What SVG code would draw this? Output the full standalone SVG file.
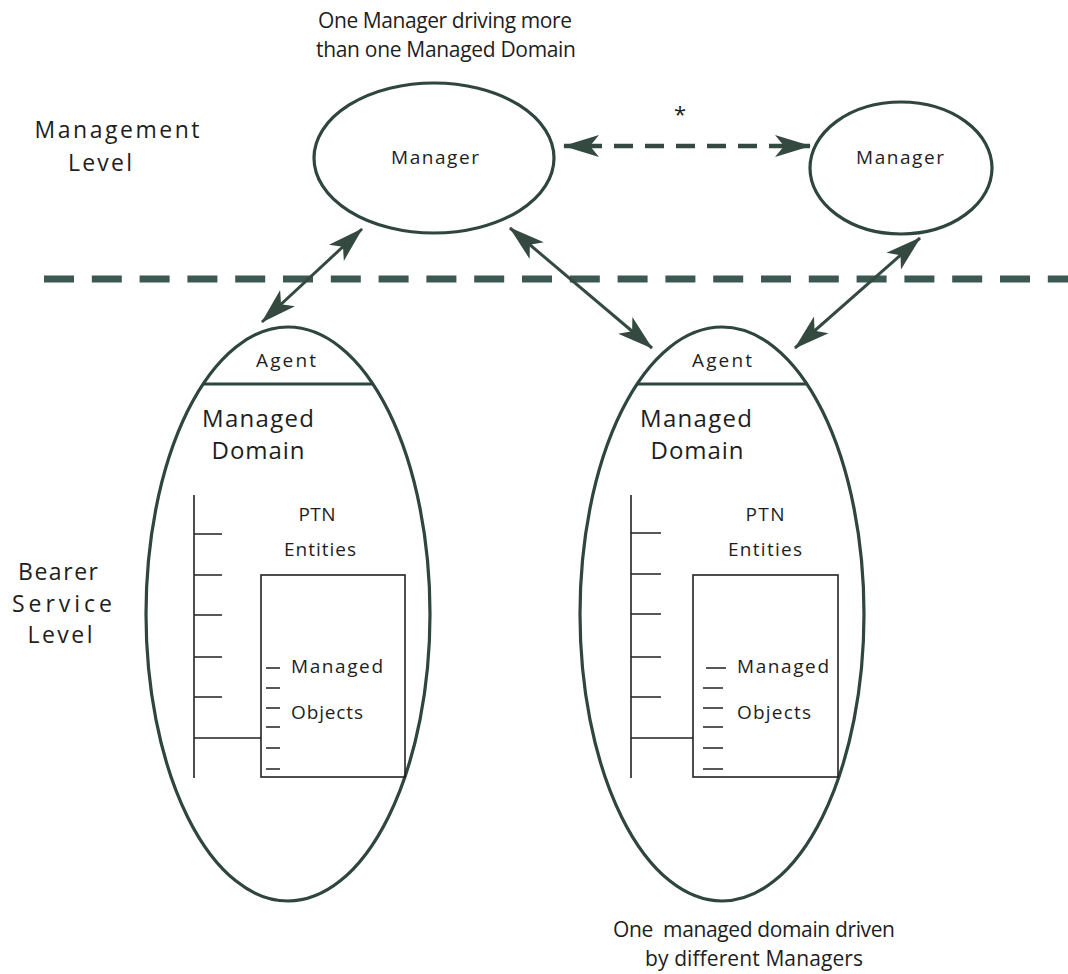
<svg xmlns="http://www.w3.org/2000/svg" width="1068" height="974" viewBox="0 0 1068 974">
  <style>
    .txt { font-family: "Open Sans", "Noto Sans", "Liberation Sans", sans-serif; fill: #1e1e1e; }
    .big { font-size: 24px; }
    .lvl { font-size: 23px; }
    .ttl { font-size: 21px; }
    .mid { font-size: 19px; }
    .sml { font-size: 19px; }
    .shape { fill: none; stroke: #2f4540; stroke-width: 3.2; }
    .tree { fill: none; stroke: #222; stroke-width: 1.6; }
    .link { fill: none; stroke: #34493f; stroke-width: 3; }
    .dlink { fill: none; stroke: #34493f; stroke-width: 4.5; stroke-dasharray: 19 12; stroke-dashoffset: 12; }
    .divider { fill: none; stroke: #3d5752; stroke-width: 7; stroke-dasharray: 30 17.8; }
  </style>
  <defs>
    <marker id="head" viewBox="0 -12 36 24" refX="35" refY="0" markerWidth="36" markerHeight="24"
            markerUnits="userSpaceOnUse" orient="auto-start-reverse">
      <path d="M36,0 L0,-11 L9,0 L0,11 Z" fill="#34493f"/>
    </marker>
  </defs>

  <rect x="0" y="0" width="1068" height="974" fill="#ffffff"/>

  <!-- level labels and captions -->
  <g id="labels">
    <text class="txt ttl" x="445" y="28" text-anchor="middle" textLength="254">One Manager driving more</text>
    <text class="txt ttl" x="446" y="57" text-anchor="middle" textLength="260">than one Managed Domain</text>
    <text class="txt lvl" x="117" y="138" text-anchor="middle" textLength="165">Management</text>
    <text class="txt lvl" x="100" y="171" text-anchor="middle" textLength="64">Level</text>
    <text class="txt lvl" x="58" y="580" text-anchor="middle" textLength="80">Bearer</text>
    <text class="txt lvl" x="62" y="612" text-anchor="middle" textLength="100">Service</text>
    <text class="txt lvl" x="60" y="643" text-anchor="middle" textLength="65">Level</text>
    <text class="txt ttl" x="754" y="937" text-anchor="middle" textLength="282" xml:space="preserve">One  managed domain driven</text>
    <text class="txt ttl" x="754" y="966" text-anchor="middle" textLength="218">by different Managers</text>
  </g>

  <!-- level boundary -->
  <g id="boundary">
    <line class="divider" x1="44" y1="279" x2="1068" y2="279"/>
  </g>

  <!-- managers -->
  <g id="manager-left">
    <ellipse class="shape" cx="434" cy="158" rx="120" ry="75"/>
    <text class="txt sml" x="435" y="164" text-anchor="middle" textLength="88">Manager</text>
  </g>
  <g id="manager-right">
    <ellipse class="shape" cx="901" cy="168" rx="91" ry="66"/>
    <text class="txt sml" x="900" y="164" text-anchor="middle" textLength="88">Manager</text>
  </g>

  <!-- managed domain with agent, left -->
  <g id="domain-left">
    <ellipse class="shape" cx="288" cy="614" rx="142" ry="287"/>
    <line class="shape" x1="203" y1="384" x2="373" y2="384"/>
    <text class="txt sml" x="286" y="367" text-anchor="middle" textLength="60">Agent</text>
    <text class="txt big" x="258" y="427" text-anchor="middle" textLength="112">Managed</text>
    <text class="txt big" x="258" y="459" text-anchor="middle" textLength="93">Domain</text>
    <g class="tree">
      <path d="M194,495 V778 M194,534 H222 M194,575 H222 M194,615 H222 M194,657 H222 M194,697 H222 M194,738 H261"/>
      <rect x="261" y="575" width="144" height="202"/>
      <path d="M266,668 H280 M266,688 H280 M266,708 H280 M266,727 H280 M266,748 H280 M266,769 H280"/>
    </g>
    <text class="txt mid" x="317" y="521" text-anchor="middle" textLength="37">PTN</text>
    <text class="txt mid" x="320" y="556" text-anchor="middle" textLength="72">Entities</text>
    <text class="txt mid" x="291" y="673" textLength="92">Managed</text>
    <text class="txt mid" x="291" y="719" textLength="72">Objects</text>
  </g>

  <!-- managed domain with agent, right -->
  <g id="domain-right">
    <ellipse class="shape" cx="722" cy="614" rx="142" ry="287"/>
    <line class="shape" x1="637" y1="384" x2="807" y2="384"/>
    <text class="txt sml" x="722" y="367" text-anchor="middle" textLength="60">Agent</text>
    <text class="txt big" x="696" y="427" text-anchor="middle" textLength="112">Managed</text>
    <text class="txt big" x="697" y="459" text-anchor="middle" textLength="93">Domain</text>
    <g class="tree">
      <path d="M631,495 V778 M631,533 H661 M631,574 H661 M631,614 H661 M631,657 H661 M631,697 H661 M631,738 H693"/>
      <rect x="693" y="575" width="145" height="202"/>
      <path d="M706,668 H726 M703,688 H723 M703,708 H723 M703,727 H723 M703,748 H723 M703,769 H723"/>
    </g>
    <text class="txt mid" x="765" y="521" text-anchor="middle" textLength="39">PTN</text>
    <text class="txt mid" x="765" y="556" text-anchor="middle" textLength="74">Entities</text>
    <text class="txt mid" x="737" y="673" textLength="92">Managed</text>
    <text class="txt mid" x="737" y="719" textLength="74">Objects</text>
  </g>

  <!-- connectors -->
  <g id="connectors">
    <path class="dlink" d="M564,146 L810,146" marker-start="url(#head)" marker-end="url(#head)"/>
    <text class="txt" x="680" y="122" text-anchor="middle" font-size="22">*</text>
    <path class="link" d="M362,229 L262,322" marker-start="url(#head)" marker-end="url(#head)"/>
    <path class="link" d="M510,228 L652,348" marker-start="url(#head)" marker-end="url(#head)"/>
    <path class="link" d="M920,238 L795,348" marker-start="url(#head)" marker-end="url(#head)"/>
  </g>
</svg>
